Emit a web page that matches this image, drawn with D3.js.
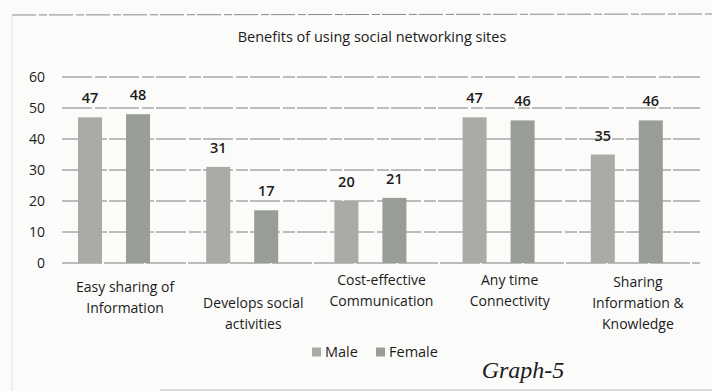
<!DOCTYPE html>
<html>
<head>
<meta charset="utf-8">
<script src="https://cdn.jsdelivr.net/npm/d3@7"></script>
<style>
  html, body { margin: 0; padding: 0; background: #fbfbfa; }
  svg { display: block; }
  text { font-family: "Open Sans", "Liberation Sans", sans-serif; fill: #1c1c1c; }
</style>
</head>
<body>
<svg id="chart" width="712" height="391"></svg>
<script>
// Benefits of using social networking sites, by gender (%)
const categories = [
  "Easy sharing of Information",
  "Develops social activities",
  "Cost-effective Communication",
  "Any time Connectivity",
  "Sharing Information & Knowledge"
];
const categoryLines = [
  ["Easy sharing of", "Information"],
  ["Develops social", "activities"],
  ["Cost-effective", "Communication"],
  ["Any time", "Connectivity"],
  ["Sharing", "Information &", "Knowledge"]
];
const seriesNames = ["Male", "Female"];
const maleValues = [47, 31, 20, 47, 35];
const femaleValues = [48, 17, 21, 46, 46];
const yTicks = [0, 10, 20, 30, 40, 50, 60];

const colors = { Male: "#a9aba6", Female: "#989d95" };

const svg = d3.select("#chart");

// frame of the chart area
svg.append("line").attr("x1", 12).attr("x2", 712).attr("y1", 15).attr("y2", 14)
  .attr("stroke", "#8a8a8a").attr("stroke-width", 1).attr("stroke-dasharray", "24 3 8 2");
svg.append("line").attr("x1", 12).attr("x2", 12).attr("y1", 15).attr("y2", 391)
  .attr("stroke", "#e4e4e4").attr("stroke-width", 1);

const x0 = d3.scaleBand().domain(categories).range([50, 691]);
const x1 = d3.scalePoint().domain(seriesNames).range([40, 88]);
const y = d3.scaleLinear().domain([0, 60]).range([263, 77]);
const barW = 24;

// gridlines
svg.append("g").selectAll("line").data(yTicks).join("line")
  .attr("x1", 62).attr("x2", 700)
  .attr("y1", d => y(d)).attr("y2", d => y(d))
  .attr("stroke", "#7c7c7c").attr("stroke-width", 1)
  .attr("stroke-dasharray", d => d === 0 ? "40 2" : "30 3 12 2");

// y axis labels
const yAxis = d3.axisLeft(y).tickValues(yTicks).tickSize(0).tickPadding(0);
const gy = svg.append("g").attr("transform", "translate(45,0)").call(yAxis);
gy.select(".domain").remove();
gy.selectAll("text").attr("font-size", 14).attr("fill", "#2a2a2a")
  .style("font-family", '"Open Sans", "Liberation Sans", sans-serif');

// bars
const rows = categories.map((c, i) => ({ c, i, vals: [
  { s: "Male", v: maleValues[i] }, { s: "Female", v: femaleValues[i] }
]}));
const groups = svg.append("g").selectAll("g").data(rows).join("g")
  .attr("transform", d => `translate(${x0(d.c)},0)`);
groups.selectAll("rect").data(d => d.vals).join("rect")
  .attr("x", d => x1(d.s) - barW / 2)
  .attr("width", barW)
  .attr("y", d => y(d.v))
  .attr("height", d => y(0) - y(d.v))
  .attr("fill", d => colors[d.s]);
groups.selectAll("text.val").data(d => d.vals).join("text")
  .attr("class", "val")
  .attr("x", d => x1(d.s))
  .attr("y", d => y(d.v) - 14)
  .attr("text-anchor", "middle")
  .attr("font-size", 14.5)
  .attr("font-weight", 600)
  .text(d => d.v);

// category labels
const labelTop = [287, 303, 280, 280, 282];
const labelShift = 11;
const cat = svg.append("g").selectAll("text").data(rows).join("text")
  .attr("text-anchor", "middle")
  .attr("font-size", 14)
  .attr("x", d => x0(d.c) + x0.bandwidth() / 2 + labelShift)
  .attr("y", d => labelTop[d.i] + 5);
cat.selectAll("tspan").data(d => categoryLines[d.i].map(t => ({ t, x: x0(d.c) + x0.bandwidth() / 2 + labelShift })))
  .join("tspan")
  .attr("x", d => d.x)
  .attr("dy", (d, j) => j === 0 ? 0 : 21)
  .text(d => d.t);

// title
svg.append("text").attr("x", 372).attr("y", 42).attr("text-anchor", "middle")
  .attr("font-size", 14.5).text("Benefits of using social networking sites");

// legend
const legend = svg.append("g").selectAll("g").data(seriesNames).join("g")
  .attr("transform", (d, i) => `translate(${i === 0 ? 312 : 376},352)`);
legend.append("rect").attr("x", 0).attr("y", -4.5).attr("width", 9).attr("height", 9)
  .attr("fill", d => colors[d]);
legend.append("text").attr("x", 13).attr("y", 5).attr("font-size", 14.5).text(d => d);

// figure caption
svg.append("text").attr("x", 523).attr("y", 378).attr("text-anchor", "middle")
  .attr("font-size", 24).attr("font-style", "italic")
  .style("font-family", '"Liberation Serif", "DejaVu Serif", serif')
  .attr("fill", "#111").text("Graph-5");

// bottom edge
svg.append("line").attr("x1", 160).attr("x2", 712).attr("y1", 390).attr("y2", 390)
  .attr("stroke", "#bdbdbd").attr("stroke-width", 1);
</script>
</body>
</html>
